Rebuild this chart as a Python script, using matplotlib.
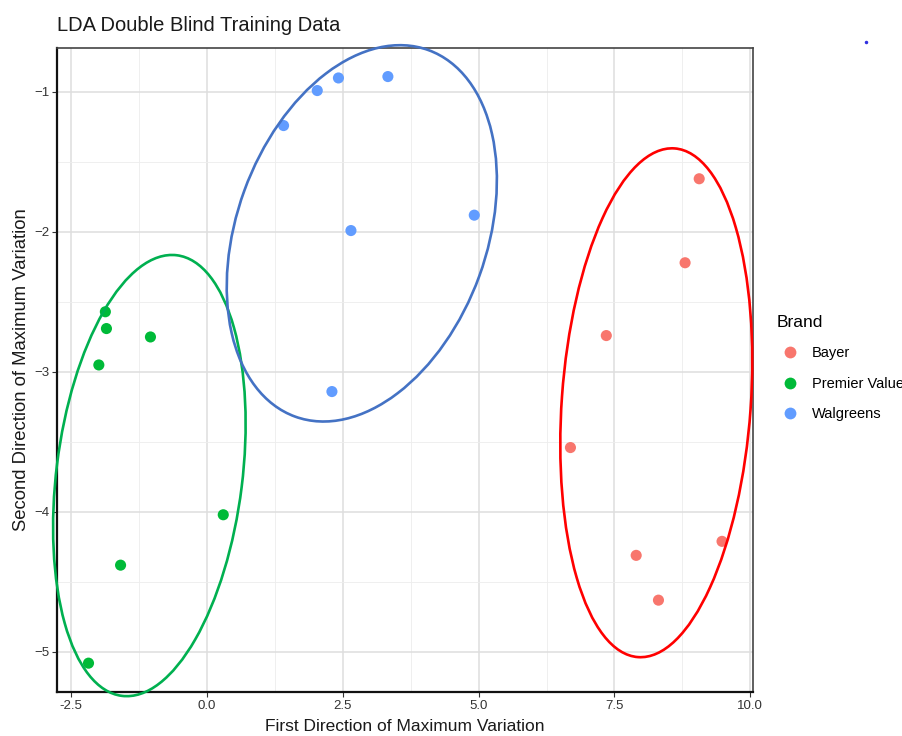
import matplotlib.pyplot as plt
import matplotlib.transforms as transforms
from matplotlib.patches import Ellipse
from matplotlib.lines import Line2D

plt.rcParams['font.family'] = ['Liberation Sans', 'DejaVu Sans']

# Dane
brands = ['Bayer', 'Premier Value', 'Walgreens']
colors = ['#F8766D', '#00BA38', '#619CFF']

bayer_x = [9.06, 8.80, 7.35, 6.69, 7.90, 9.48, 8.31]
bayer_y = [-1.62, -2.22, -2.74, -3.54, -4.31, -4.21, -4.63]

premier_x = [-1.87, -1.85, -1.04, -1.99, 0.30, -1.59, -2.18]
premier_y = [-2.57, -2.69, -2.75, -2.95, -4.02, -4.38, -5.08]

walgreens_x = [1.41, 2.03, 2.42, 3.33, 4.92, 2.65, 2.30]
walgreens_y = [-1.24, -0.99, -0.90, -0.89, -1.88, -1.99, -3.14]

xs = [bayer_x, premier_x, walgreens_x]
ys = [bayer_y, premier_y, walgreens_y]

# Elipsy narysowane recznie: srodek (dane), polosie (cale), kat
ell_centers = [(8.27, -3.22), (-1.06, -3.74), (2.85, -2.01)]
ell_axes = [(2.55, 0.945), (2.22, 0.93), (1.95, 1.25)]
ell_angles = [85.9, 82.9, 70.0]
ell_colors = ['#FF0000', '#00B050', '#4472C4']

fig = plt.figure(figsize=(9.03, 7.36), dpi=100)
ax = fig.add_axes([57 / 903, 1 - 692 / 736, 696 / 903, 644 / 736])

for x, y, c, name in zip(xs, ys, colors, brands):
    ax.scatter(x, y, s=64, color=c, label=name, edgecolors='none', zorder=3)

for (cx, cy), (a, b), ang, c in zip(ell_centers, ell_axes, ell_angles, ell_colors):
    tr = fig.dpi_scale_trans + transforms.ScaledTranslation(cx, cy, ax.transData)
    e = Ellipse((0, 0), 2 * a, 2 * b, angle=ang, transform=tr,
                fill=False, edgecolor=c, linewidth=1.9, clip_on=False, zorder=4)
    ax.add_patch(e)

ax.set_xlim(-2.76, 10.05)
ax.set_ylim(-5.286, -0.686)
ax.set_xticks([-2.5, 0.0, 2.5, 5.0, 7.5, 10.0])
ax.set_xticklabels(['-2.5', '0.0', '2.5', '5.0', '7.5', '10.0'])
ax.set_yticks([-5, -4, -3, -2, -1])
ax.set_yticklabels(['\u22125', '\u22124', '\u22123', '\u22122', '\u22121'])
ax.set_xticks([-1.25, 1.25, 3.75, 6.25, 8.75], minor=True)
ax.set_yticks([-4.5, -3.5, -2.5, -1.5], minor=True)

ax.grid(True, which='major', color='#DEDEDE', linewidth=1.1, zorder=0)
ax.grid(True, which='minor', color='#EDEDED', linewidth=0.6, zorder=0)
ax.set_axisbelow(True)

ax.tick_params(which='major', length=3.5, width=0.8, color='#333333',
               labelsize=9.5, labelcolor='#333333', pad=2)
ax.tick_params(which='minor', length=0)
for s in ['top', 'right']:
    ax.spines[s].set_color('#444444')
    ax.spines[s].set_linewidth(1.2)
for s in ['left', 'bottom']:
    ax.spines[s].set_color('#111111')
    ax.spines[s].set_linewidth(1.6)

ax.set_xlabel('First Direction of Maximum Variation', fontsize=12.5, color='#1A1A1A', labelpad=5)
ax.set_ylabel('Second Direction of Maximum Variation', fontsize=13.3, color='#1A1A1A', labelpad=3)
ax.set_title('LDA Double Blind Training Data', fontsize=14.5, color='#1A1A1A', loc='left', pad=12)

handles = [Line2D([], [], marker='o', linestyle='None', markersize=8.5,
                  markerfacecolor=c, markeredgecolor='none') for c in colors]
leg = fig.legend(handles, brands, title='Brand', loc='upper left',
                 bbox_to_anchor=(764 / 903, 1 - 302 / 736), frameon=False,
                 fontsize=10.5, title_fontsize=12.5, handletextpad=0.65,
                 labelspacing=1.12, handlelength=1.75, alignment='left')

# mala kropka w prawym gornym rogu
fig.add_artist(Line2D([866 / 903], [1 - 42 / 736], marker='o', markersize=1.5,
                      color='#3030E0', transform=fig.transFigure))

plt.savefig('out.png', dpi=100)
